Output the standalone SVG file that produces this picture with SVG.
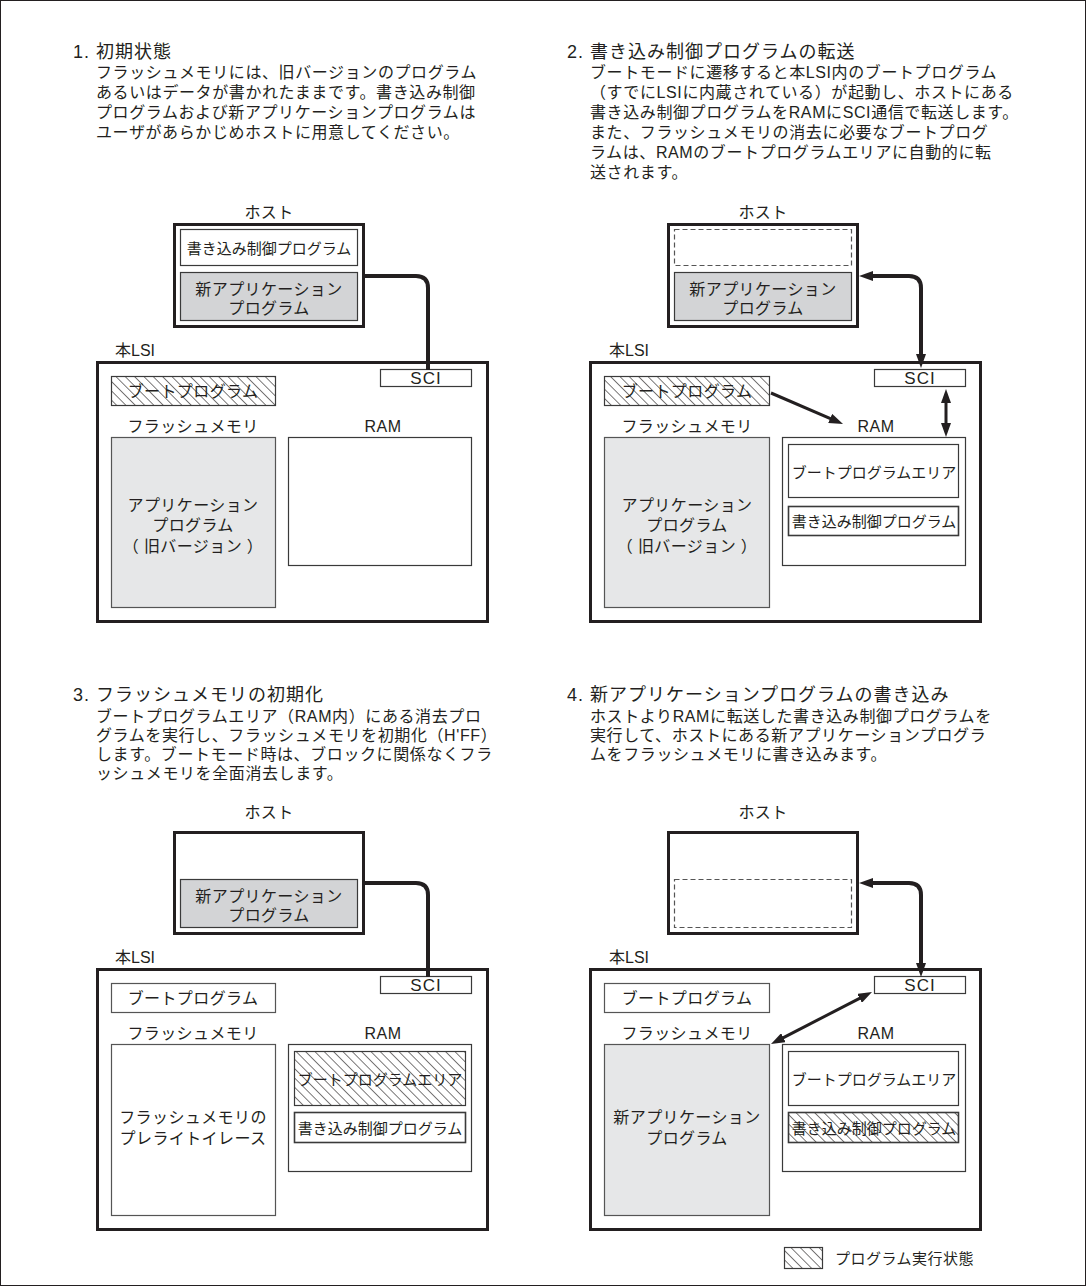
<svg xmlns="http://www.w3.org/2000/svg" width="1086" height="1286" viewBox="0 0 1086 1286">
<style>
.tx{font-family:"Liberation Sans","Noto Sans CJK JP",sans-serif;fill:#231f20}
.title{font-size:18px;letter-spacing:1px;dominant-baseline:central}
.body{font-size:16px;letter-spacing:0.6px;dominant-baseline:central}
.lbl{font-size:16px;letter-spacing:0.4px;text-anchor:middle;dominant-baseline:central}
.nar{font-size:15px;letter-spacing:0px}
.sci{font-size:17px;letter-spacing:1px}
.thick{fill:#fff;stroke:#231f20;stroke-width:3}
.inner{fill:#fff;stroke:#3a3a3a;stroke-width:1.2}
.gray{fill:#d3d4d6;stroke:#3a3a3a;stroke-width:1.2}
.flash{fill:#e6e7e8;stroke:#555;stroke-width:1.2}
.plain{fill:#fff;stroke:#555;stroke-width:1.2}
.hatch{fill:url(#hatch);stroke:#3a3a3a;stroke-width:1.2}
.dash{fill:none;stroke:#555;stroke-width:1.2;stroke-dasharray:5 3}
.con{fill:none;stroke:#231f20;stroke-width:4;stroke-linejoin:round}
.con3{fill:none;stroke:#231f20;stroke-width:3}
</style>
<defs>
<pattern id="hatch" patternUnits="userSpaceOnUse" width="6.6" height="6.6" patternTransform="rotate(-45)">
<rect width="6.6" height="6.6" fill="#fff"/>
<line x1="0" y1="0" x2="0" y2="6.6" stroke="#231f20" stroke-width="1.2"/>
</pattern>
<marker id="ah" markerUnits="userSpaceOnUse" markerWidth="14" markerHeight="10" refX="6" refY="5" orient="auto-start-reverse">
<path d="M0,0 L14,5 L0,10 z" fill="#231f20"/>
</marker>
</defs>
<rect x="0.5" y="0.5" width="1085" height="1285" fill="#fff" stroke="#231f20" stroke-width="1"/>

<!-- descriptions -->
<g id="desc1" class="tx">
<text class="title" x="73" y="52">1. 初期状態</text>
<text class="body" x="96" y="72">フラッシュメモリには、旧バージョンのプログラム</text>
<text class="body" x="96" y="92">あるいはデータが書かれたままです。書き込み制御</text>
<text class="body" x="96" y="112">プログラムおよび新アプリケーションプログラムは</text>
<text class="body" x="96" y="132">ユーザがあらかじめホストに用意してください。</text>
</g>
<g id="desc2" class="tx">
<text class="title" x="567" y="52">2. 書き込み制御プログラムの転送</text>
<text class="body" x="590" y="72">ブートモードに遷移すると本LSI内のブートプログラム</text>
<text class="body" x="590" y="92">（すでにLSIに内蔵されている）が起動し、ホストにある</text>
<text class="body" x="590" y="112">書き込み制御プログラムをRAMにSCI通信で転送します。</text>
<text class="body" x="590" y="132">また、フラッシュメモリの消去に必要なブートプログ</text>
<text class="body" x="590" y="152">ラムは、RAMのブートプログラムエリアに自動的に転</text>
<text class="body" x="590" y="172">送されます。</text>
</g>
<g id="desc3" class="tx">
<text class="title" x="73" y="695">3. フラッシュメモリの初期化</text>
<text class="body" x="96" y="716">ブートプログラムエリア（RAM内）にある消去プロ</text>
<text class="body" x="96" y="735">グラムを実行し、フラッシュメモリを初期化（H'FF）</text>
<text class="body" x="96" y="754">します。ブートモード時は、ブロックに関係なくフラ</text>
<text class="body" x="96" y="773">ッシュメモリを全面消去します。</text>
</g>
<g id="desc4" class="tx">
<text class="title" x="567" y="695">4. 新アプリケーションプログラムの書き込み</text>
<text class="body" x="590" y="716">ホストよりRAMに転送した書き込み制御プログラムを</text>
<text class="body" x="590" y="735">実行して、ホストにある新アプリケーションプログラ</text>
<text class="body" x="590" y="754">ムをフラッシュメモリに書き込みます。</text>
</g>

<!-- panel 1 -->
<g id="panel1">
<g id="p1-host">
<text class="tx lbl" x="269" y="212">ホスト</text>
<rect class="thick" x="174.5" y="224.5" width="189" height="102"/>
<rect class="inner" x="180.5" y="229.5" width="177" height="36"/>
<text class="tx lbl nar" x="269" y="248">書き込み制御プログラム</text>
<rect class="gray" x="180.5" y="272.5" width="177" height="48"/>
<text class="tx lbl" x="269" y="289">新アプリケーション</text>
<text class="tx lbl" x="269" y="308">プログラム</text>
</g>
<g id="p1-lsi">
<text class="tx body" x="115" y="350" style="letter-spacing:0">本LSI</text>
<rect class="thick" x="97.5" y="362.5" width="390" height="259"/>
</g>
<g id="p1-sci">
<rect class="inner" x="380.5" y="369.5" width="91" height="17"/>
<text class="tx lbl sci" x="426" y="378">SCI</text>
</g>
<g id="p1-boot">
<rect class="hatch" x="111.5" y="376.5" width="164" height="29"/>
<text class="tx lbl" x="193" y="391">ブートプログラム</text>
</g>
<g id="p1-flash">
<text class="tx lbl" x="193" y="426">フラッシュメモリ</text>
<rect class="flash" x="111.5" y="437.5" width="164" height="170"/>
<text class="tx lbl" x="193" y="505">アプリケーション</text>
<text class="tx lbl" x="193" y="525">プログラム</text>
<text class="tx lbl" x="193" y="546">（ 旧バージョン ）</text>
</g>
<g id="p1-ram">
<text class="tx lbl" x="383" y="426">RAM</text>
<rect class="inner" x="288.5" y="437.5" width="183" height="128"/>
</g>
</g>

<!-- panel 2 -->
<g id="panel2">
<g id="p2-host">
<text class="tx lbl" x="763" y="212">ホスト</text>
<rect class="thick" x="668.5" y="224.5" width="189" height="102"/>
<rect class="dash" x="674.5" y="229.5" width="177" height="36"/>
<rect class="gray" x="674.5" y="272.5" width="177" height="48"/>
<text class="tx lbl" x="763" y="289">新アプリケーション</text>
<text class="tx lbl" x="763" y="308">プログラム</text>
</g>
<g id="p2-lsi">
<text class="tx body" x="609" y="350" style="letter-spacing:0">本LSI</text>
<rect class="thick" x="590.5" y="362.5" width="390" height="259"/>
</g>
<g id="p2-sci">
<rect class="inner" x="874.5" y="369.5" width="91" height="17"/>
<text class="tx lbl sci" x="920" y="378">SCI</text>
</g>
<g id="p2-boot">
<rect class="hatch" x="604.5" y="376.5" width="165" height="29"/>
<text class="tx lbl" x="687" y="391">ブートプログラム</text>
</g>
<g id="p2-flash">
<text class="tx lbl" x="687" y="426">フラッシュメモリ</text>
<rect class="flash" x="604.5" y="437.5" width="165" height="170"/>
<text class="tx lbl" x="687" y="505">アプリケーション</text>
<text class="tx lbl" x="687" y="525">プログラム</text>
<text class="tx lbl" x="687" y="546">（ 旧バージョン ）</text>
</g>
<g id="p2-ram">
<text class="tx lbl" x="876" y="426">RAM</text>
<rect class="inner" x="782.5" y="437.5" width="183" height="128"/>
<rect class="inner" x="788.5" y="444.5" width="170" height="53"/>
<text class="tx lbl nar" x="874" y="472">ブートプログラムエリア</text>
<rect class="inner" x="788.5" y="506.5" width="170" height="29" style="stroke-width:1.6"/>
<text class="tx lbl nar" x="874" y="521">書き込み制御プログラム</text>
</g>
</g>

<!-- panel 3 -->
<g id="panel3">
<g id="p3-host">
<text class="tx lbl" x="269" y="812">ホスト</text>
<rect class="thick" x="174.5" y="832.5" width="189" height="101"/>
<rect class="gray" x="180.5" y="879.5" width="177" height="48"/>
<text class="tx lbl" x="269" y="896">新アプリケーション</text>
<text class="tx lbl" x="269" y="915">プログラム</text>
</g>
<g id="p3-lsi">
<text class="tx body" x="115" y="957" style="letter-spacing:0">本LSI</text>
<rect class="thick" x="97.5" y="969.5" width="390" height="260"/>
</g>
<g id="p3-sci">
<rect class="inner" x="380.5" y="976.5" width="91" height="17"/>
<text class="tx lbl sci" x="426" y="985">SCI</text>
</g>
<g id="p3-boot">
<rect class="plain" x="111.5" y="983.5" width="164" height="29"/>
<text class="tx lbl" x="193" y="998">ブートプログラム</text>
</g>
<g id="p3-flash">
<text class="tx lbl" x="193" y="1033">フラッシュメモリ</text>
<rect class="plain" x="111.5" y="1044.5" width="164" height="171"/>
<text class="tx lbl" x="193" y="1117">フラッシュメモリの</text>
<text class="tx lbl" x="193" y="1138">プレライトイレース</text>
</g>
<g id="p3-ram">
<text class="tx lbl" x="383" y="1033">RAM</text>
<rect class="inner" x="288.5" y="1044.5" width="183" height="127"/>
<rect class="hatch" x="294.5" y="1051.5" width="171" height="54"/>
<text class="tx lbl nar" x="380" y="1079">ブートプログラムエリア</text>
<rect class="inner" x="294.5" y="1112.5" width="171" height="30" style="stroke-width:1.6"/>
<text class="tx lbl nar" x="380" y="1128">書き込み制御プログラム</text>
</g>
</g>

<!-- panel 4 -->
<g id="panel4">
<g id="p4-host">
<text class="tx lbl" x="763" y="812">ホスト</text>
<rect class="thick" x="668.5" y="832.5" width="189" height="101"/>
<rect class="dash" x="674.5" y="879.5" width="177" height="48"/>
</g>
<g id="p4-lsi">
<text class="tx body" x="609" y="957" style="letter-spacing:0">本LSI</text>
<rect class="thick" x="590.5" y="969.5" width="390" height="260"/>
</g>
<g id="p4-sci">
<rect class="inner" x="874.5" y="976.5" width="91" height="17"/>
<text class="tx lbl sci" x="920" y="985">SCI</text>
</g>
<g id="p4-boot">
<rect class="plain" x="604.5" y="983.5" width="165" height="29"/>
<text class="tx lbl" x="687" y="998">ブートプログラム</text>
</g>
<g id="p4-flash">
<text class="tx lbl" x="687" y="1033">フラッシュメモリ</text>
<rect class="flash" x="604.5" y="1044.5" width="165" height="171"/>
<text class="tx lbl" x="687" y="1117">新アプリケーション</text>
<text class="tx lbl" x="687" y="1138">プログラム</text>
</g>
<g id="p4-ram">
<text class="tx lbl" x="876" y="1033">RAM</text>
<rect class="inner" x="782.5" y="1044.5" width="183" height="127"/>
<rect class="inner" x="788.5" y="1051.5" width="170" height="54"/>
<text class="tx lbl nar" x="874" y="1079">ブートプログラムエリア</text>
<rect class="hatch" x="788.5" y="1112.5" width="170" height="30" style="stroke-width:1.6"/>
<text class="tx lbl nar" x="874" y="1128">書き込み制御プログラム</text>
</g>
</g>

<!-- legend -->
<g id="legend">
<rect class="hatch" x="784.5" y="1247.5" width="38" height="21"/>
<text class="tx" x="835" y="1258" style="font-size:15px;letter-spacing:0.5px;dominant-baseline:central">プログラム実行状態</text>
</g>

<!-- connectors -->
<g id="connectors">
<path class="con" d="M364,276 H416 Q428,276 428,288 V370"/>
<path class="con" d="M867,276 H909 Q921,276 921,288 V360" marker-start="url(#ah)" marker-end="url(#ah)"/>
<path class="con3" d="M771,393 L835.7,420.8" marker-end="url(#ah)"/>
<path class="con3" d="M946,397 V429" marker-start="url(#ah)" marker-end="url(#ah)"/>
<path class="con" d="M364,883 H416 Q428,883 428,895 V977"/>
<path class="con" d="M867,883 H909 Q921,883 921,895 V969" marker-start="url(#ah)" marker-end="url(#ah)"/>
<path class="con3" d="M864.9,995.6 L778.1,1040.4" marker-start="url(#ah)" marker-end="url(#ah)"/>
</g>
</svg>
